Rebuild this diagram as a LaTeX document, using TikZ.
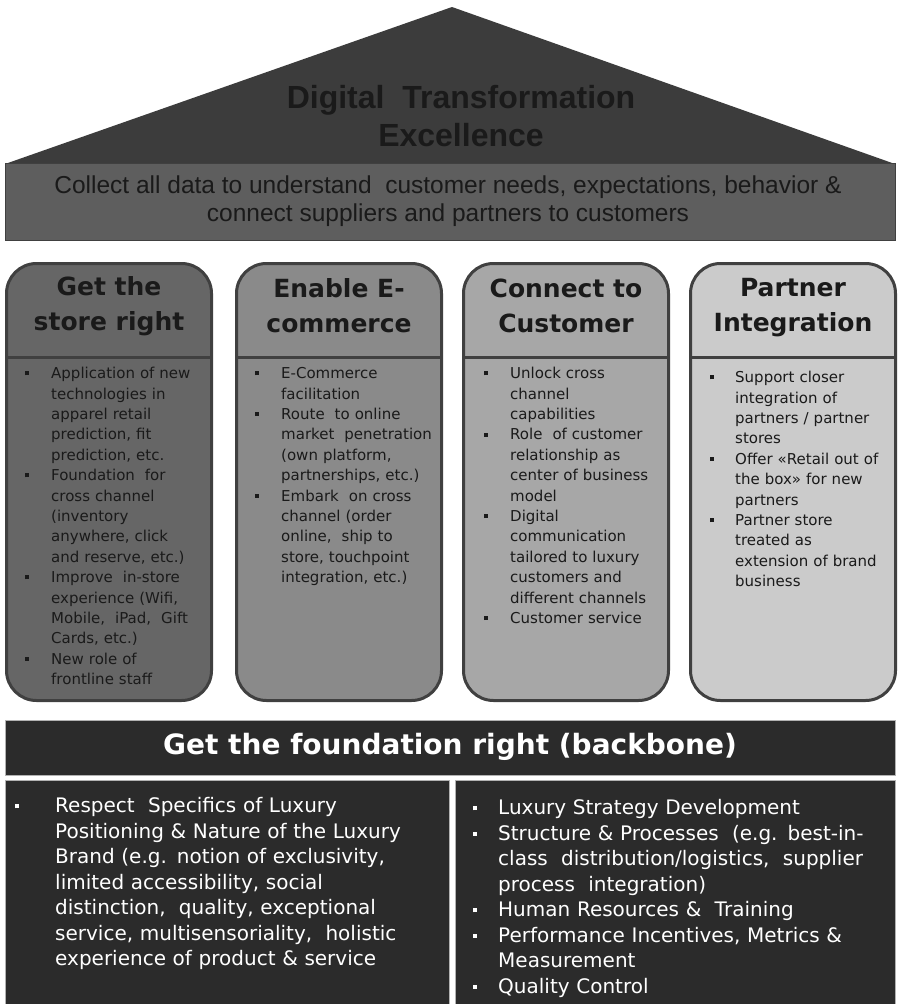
\documentclass[tikz,border=0pt]{standalone}
\usepackage{fontspec}
\setmainfont{DejaVu Sans}
\newfontfamily\rooffont{Liberation Sans}
\usetikzlibrary{positioning}

\definecolor{roofgray}{HTML}{3C3C3C}
\definecolor{bandgray}{HTML}{5E5E5E}
\definecolor{storegray}{HTML}{666666}
\definecolor{shopgray}{HTML}{8A8A8A}
\definecolor{custgray}{HTML}{A7A7A7}
\definecolor{partgray}{HTML}{CBCBCB}
\definecolor{edgegray}{HTML}{404040}
\definecolor{basegray}{HTML}{2B2B2B}
\definecolor{inkgray}{HTML}{1A1A1A}

% square bullets, #1 = indent of the text, #2 = gap after the bullet
\newenvironment{blist}[2]{%
  \begin{list}{\rule[0.22em]{4pt}{4pt}}{%
    \setlength{\leftmargin}{#1}\setlength{\labelsep}{#2}%
    \setlength{\labelwidth}{4pt}\setlength{\itemsep}{0pt}%
    \setlength{\parsep}{0pt}\setlength{\topsep}{0pt}\setlength{\partopsep}{0pt}}}%
  {\end{list}}

\begin{document}
\begin{tikzpicture}[x=1pt,y=-1pt,
    pillar/.style={draw=edgegray,line width=3pt,rounded corners=30pt,
      minimum width=205,minimum height=437,inner sep=0pt},
    divider/.style={edgegray,line width=3pt},
    head/.style={align=center,text=inkgray,
      font=\bfseries\fontsize{25}{35}\selectfont},
    body/.style={anchor=north west,inner sep=0pt,text width=185pt,align=left,
      text=inkgray,font=\fontsize{15}{20.4}\selectfont},
    basebox/.style={fill=basegray,draw=gray!60,line width=0.6pt,inner sep=0pt},
    basetext/.style={anchor=north west,inner sep=0pt,align=left,text=white,
      font=\fontsize{20}{25.5}\selectfont}]
  \useasboundingbox (0,0) rectangle (897,1004);
  \fill[white] (0,0) rectangle (897,1004);

  % roof
  \coordinate (eaveL) at (5,164);
  \coordinate (apex) at (452,7);
  \coordinate (eaveR) at (895,164);
  \fill[roofgray] (eaveL) -- (apex) -- (eaveR) -- cycle;
  \node[text=inkgray,align=center,
    font=\rooffont\bfseries\fontsize{32}{38}\selectfont] (ttl) at (461,116)
    {Digital \ Transformation\\Excellence};
  \node[fill=bandgray,draw=edgegray,line width=1pt,minimum width=890,
    minimum height=77,inner sep=0pt] (band) at (450,201.5) {};
  \node[text=inkgray,align=center,
    font=\rooffont\fontsize{24.5}{28}\selectfont] (bandtxt) at (448,201)
    {Collect all data to understand \ customer needs, expectations, behavior \&\\
     connect suppliers and partners to customers};

  % pillars
  \node[pillar,fill=storegray] (p1) at (109,482) {};
  \node[pillar,fill=shopgray] (p2) at (339,482) {};
  \node[pillar,fill=custgray] (p3) at (566,482) {};
  \node[pillar,fill=partgray] (p4) at (793,482) {};
  \coordinate (hline) at (0,357);
  \foreach \p in {p1,p2,p3,p4}
    \draw[divider] (\p.west |- hline) -- (\p.east |- hline);

  \node[head] (h1) at (109,306) {Get the\\store right};
  \node[head] (h2) at (339,306) {Enable E-\\commerce};
  \node[head] (h3) at (566,306) {Connect to\\Customer};
  \node[head] (h4) at (793,308) {Partner\\Integration};

  \node[body] (b1) at (25,358) {\begin{blist}{26pt}{22pt}
    \item Application of new\\technologies in\\apparel retail\\prediction, fit\\prediction, etc.
    \item Foundation \ for\\cross channel\\(inventory\\anywhere, click\\and reserve, etc.)
    \item Improve \ in-store\\experience (Wifi,\\Mobile, \ iPad, \ Gift\\Cards, etc.)
    \item New role of\\frontline staff
  \end{blist}};
  \node[body] (b2) at (255,358) {\begin{blist}{26pt}{22pt}
    \item E-Commerce\\facilitation
    \item Route \ to online\\market \ penetration\\(own platform,\\partnerships, etc.)
    \item Embark \ on cross\\channel (order\\online, \ ship to\\store, touchpoint\\integration, etc.)
  \end{blist}};
  \node[body] (b3) at (484,358) {\begin{blist}{26pt}{22pt}
    \item Unlock cross\\channel\\capabilities
    \item Role \ of customer\\relationship as\\center of business\\model
    \item Digital\\communication\\tailored to luxury\\customers and\\different channels
    \item Customer service
  \end{blist}};
  \node[body] (b4) at (710,362) {\begin{blist}{25pt}{21pt}
    \item Support closer\\integration of\\partners / partner\\stores
    \item Offer «Retail out of\\the box» for new\\partners
    \item Partner store\\treated as\\extension of brand\\business
  \end{blist}};

  % foundation
  \node[basebox,minimum width=890,minimum height=55] (fhead) at (450,747.5) {};
  \node[text=white,font=\bfseries\fontsize{28}{32}\selectfont] (ftitle)
    at (450,747) {Get the foundation right (backbone)};
  \node[basebox,minimum width=444,minimum height=240] (fleft) at (227,900) {};
  \node[basebox,minimum width=440,minimum height=240] (fright) at (675,900) {};

  \node[basetext,text width=440pt] (fl) at (15,787) {\begin{blist}{40pt}{36pt}
    \item Respect \ Specifics of Luxury\\Positioning \& Nature of the Luxury\\
      Brand (e.g. notion of exclusivity,\\limited accessibility, social\\
      distinction, \ quality, exceptional\\service, multisensoriality, \ holistic\\
      experience of product \& service
  \end{blist}};
  \node[basetext,text width=420pt] (fr) at (473,789) {\begin{blist}{25pt}{21pt}
    \item Luxury Strategy Development
    \item Structure \& Processes \ (e.g. best-in-\\class \ distribution/logistics, \ supplier\\
      process \ integration)
    \item Human Resources \& \ Training
    \item Performance Incentives, Metrics \&\\Measurement
    \item Quality Control
  \end{blist}};
\end{tikzpicture}
\end{document}
